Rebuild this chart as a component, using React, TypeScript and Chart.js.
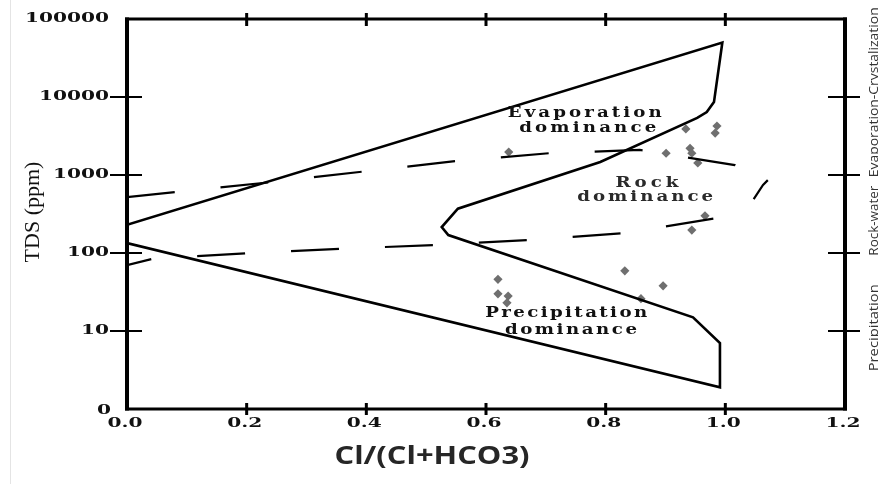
import React, { useEffect, useRef } from 'react';
import { Chart, registerables } from 'chart.js';

Chart.register(...registerables);

// ---- axes ----
const xTickValues = [0, 0.2, 0.4, 0.6, 0.8, 1.0, 1.2];
const xTickLabels = ['0.0', '0.2', '0.4', '0.6', '0.8', '1.0', '1.2'];
const yTickTDS = [1, 10, 100, 1000, 10000, 100000];
const yTickLabels = ['0', '10', '100', '1000', '10000', '100000'];

// ---- Gibbs boundary (solid) ----
const boundaryRatio = [0, 0.995, 0.981, 0.969, 0.953, 0.791, 0.553, 0.526, 0.537, 0.946, 0.991, 0.991, 0];
const boundaryTDS = [230, 50000, 8600, 6400, 5400, 1470, 370, 215, 170, 15, 7, 1.9, 134];

// ---- dashed boomerang ----
const upperDashRatio = [0, 0.227, 0.55, 0.705, 0.857, 1.016, 1.071];
const upperDashTDS = [520, 790, 1510, 1900, 2100, 1340, 860];
const lowerDashRatio = [0, 0.042, 0.206, 0.356, 0.518, 0.674, 0.832, 0.986, 1.041, 1.063, 1.071];
const lowerDashTDS = [70, 84, 100, 113, 127, 147, 180, 281, 412, 745, 860];

// ---- samples ----
const sampleRatio = [0.638, 0.934, 0.986, 0.983, 0.901, 0.941, 0.944, 0.954, 0.966, 0.944, 0.62, 0.62, 0.637, 0.635, 0.832, 0.896, 0.859];
const sampleTDS = [1970, 3900, 4250, 3450, 1900, 2200, 1900, 1430, 300, 197, 46, 30, 28, 23, 59, 38, 26];

// ---- text ----
const xTitle = 'Cl/(Cl+HCO3)';
const yTitle = 'TDS (ppm)';
const zoneTexts = ['Evaporation', 'dominance', 'Rock', 'dominance', 'Precipitation', 'dominance'];
const zoneRatio = [0.765, 0.77, 0.869, 0.866, 0.734, 0.742];
const zoneTDS = [6240, 4000, 790, 522, 17, 10.3];
const zoneWidths = [154, 137, 63, 136, 162, 132];
const sideTexts = ['Evaporation-Crystalization', 'Rock-water', 'Precipitation'];
const sideTDS = [11500, 260, 11];
const sideLengths = [170, 70, 87];

const toPts = (xs: number[], ts: number[]) => xs.map((x, i) => ({ x, y: Math.log10(ts[i]) }));

type TOpts = { align?: string; sx?: number; width?: number; spacing?: number; rotate?: number; fit?: boolean };

function drawText(ctx: CanvasRenderingContext2D, text: string, x: number, y: number, o: TOpts) {
  const chars = [...text];
  const widths = chars.map((c) => ctx.measureText(c).width);
  const sum = widths.reduce((a, b) => a + b, 0);
  let sx = o.sx ?? 1;
  let spacing = o.spacing ?? 0;
  if (o.fit && o.width) {
    sx = o.width / sum;
    spacing = 0;
  } else if (o.width && o.spacing === undefined && chars.length > 1) {
    spacing = (o.width / sx - sum) / (chars.length - 1);
  }
  const total = sum + spacing * (chars.length - 1);
  const align = o.align ?? 'center';
  let lx = align === 'center' ? -total / 2 : align === 'right' ? -total : 0;
  ctx.save();
  ctx.translate(x, y);
  if (o.rotate) ctx.rotate(o.rotate);
  ctx.scale(sx, 1);
  ctx.textAlign = 'left';
  ctx.textBaseline = 'middle';
  chars.forEach((c, i) => {
    ctx.fillText(c, lx, 0);
    lx += widths[i] + spacing;
  });
  ctx.restore();
}

const framePlugin = {
  id: 'gibbsFrame',
  afterDatasetsDraw(chart: any) {
    const { ctx, chartArea: a, scales } = chart;
    const xs = scales.x;
    const ys = scales.y;
    const seg = (x1: number, y1: number, x2: number, y2: number, w: number, color = '#000') => {
      ctx.beginPath();
      ctx.lineWidth = w;
      ctx.strokeStyle = color;
      ctx.moveTo(x1, y1);
      ctx.lineTo(x2, y2);
      ctx.stroke();
    };
    ctx.save();
    ctx.lineCap = 'butt';
    // faint scan border
    seg(10.5, 0, 10.5, 484, 1, '#e4e4e4');
    // frame
    seg(a.left - 2, a.top, a.right + 2, a.top, 3);
    seg(a.left - 2, a.bottom, a.right + 2, a.bottom, 3);
    seg(a.left, a.top - 1.5, a.left, a.bottom + 1.5, 4);
    seg(a.right, a.top - 1.5, a.right, a.bottom + 1.5, 4);
    // x ticks (top and bottom)
    xTickValues.forEach((v) => {
      if (v === 0 || v === 1.2) return;
      const px = xs.getPixelForValue(v);
      seg(px, a.top - 6, px, a.top + 7, 3);
      seg(px, a.bottom - 6, px, a.bottom + 6, 3);
    });
    // y ticks (left and right)
    yTickTDS.forEach((t) => {
      if (t === 1 || t === 100000) return;
      const py = ys.getPixelForValue(Math.log10(t));
      seg(a.left - 17, py, a.left + 15, py, 2);
      seg(a.right - 17, py, a.right + 15, py, 2);
    });
    // tick labels
    ctx.fillStyle = '#111';
    ctx.font = 'bold 13px "DejaVu Serif"';
    yTickTDS.forEach((t, i) => {
      const py = ys.getPixelForValue(Math.log10(t));
      if (t === 1) drawText(ctx, yTickLabels[i], a.left - 16, py + 2, { align: 'right', sx: 1.55 });
      else drawText(ctx, yTickLabels[i], a.left - 18, py, { align: 'right', sx: 1.55 });
    });
    xTickValues.forEach((v, i) => {
      const px = xs.getPixelForValue(v);
      drawText(ctx, xTickLabels[i], px - 2, a.bottom + 15, { align: 'center', sx: 1.55 });
    });
    // zone annotations
    ctx.font = 'bold 14px "DejaVu Serif"';
    zoneTexts.forEach((t, i) => {
      ctx.fillStyle = i === 2 || i === 3 ? '#2a2a2a' : '#111';
      drawText(ctx, t, xs.getPixelForValue(zoneRatio[i]), ys.getPixelForValue(Math.log10(zoneTDS[i])), {
        align: 'center',
        sx: 1.3,
        width: zoneWidths[i],
      });
    });
    // axis titles
    ctx.fillStyle = '#262626';
    ctx.font = 'bold 25px "Open Sans"';
    drawText(ctx, xTitle, (a.left + a.right) / 2 - 54, a.bottom + 48, { align: 'center', fit: true, width: 195 });
    ctx.fillStyle = '#111';
    ctx.font = '22px "Liberation Serif"';
    drawText(ctx, yTitle, 33, 212, { align: 'center', rotate: -Math.PI / 2 });
    // right side zone names
    ctx.fillStyle = '#333';
    ctx.font = '13px "Open Sans"';
    sideTexts.forEach((t, i) => {
      const py = ys.getPixelForValue(Math.log10(sideTDS[i]));
      drawText(ctx, t, a.right + 29, py, { align: 'center', rotate: -Math.PI / 2, fit: true, width: sideLengths[i] });
    });
    ctx.restore();
  },
};

export default function App() {
  const ref = useRef<HTMLCanvasElement>(null);
  useEffect(() => {
    if (!ref.current) return;
    const chart = new Chart(ref.current, {
      type: 'scatter',
      data: {
        datasets: [
          {
            label: 'boundary',
            data: toPts(boundaryRatio, boundaryTDS),
            showLine: true,
            borderColor: '#000',
            borderWidth: 2.6,
            pointRadius: 0,
            tension: 0,
            fill: false,
          },
          {
            label: 'upper dashed',
            data: toPts(upperDashRatio, upperDashTDS),
            showLine: true,
            borderColor: '#000',
            borderWidth: 2.2,
            borderDash: [48, 46],
            pointRadius: 0,
            tension: 0,
            fill: false,
          },
          {
            label: 'lower dashed',
            data: toPts(lowerDashRatio, lowerDashTDS),
            showLine: true,
            borderColor: '#000',
            borderWidth: 2.2,
            borderDash: [48, 46],
            borderDashOffset: 23,
            pointRadius: 0,
            tension: 0,
            fill: false,
          },
          {
            label: 'samples',
            data: toPts(sampleRatio, sampleTDS),
            showLine: false,
            pointStyle: 'rectRot',
            pointRadius: 4.6,
            pointBackgroundColor: '#6f6f6f',
            pointBorderColor: '#6f6f6f',
            pointBorderWidth: 0,
          },
        ],
      },
      options: {
        animation: false,
        responsive: false,
        layout: { padding: { left: 127, right: 33, top: 19, bottom: 75 } },
        plugins: { legend: { display: false }, tooltip: { enabled: false } },
        scales: {
          x: { type: 'linear', min: 0, max: 1.2, display: false },
          y: { type: 'linear', min: 0, max: 5, display: false },
        },
      },
      plugins: [framePlugin],
    });
    return () => chart.destroy();
  }, []);
  return (
    <div style={{ position: 'absolute', left: 0, top: 0, width: 878, height: 484, background: '#fff' }}>
      <canvas ref={ref} width={878} height={484} />
    </div>
  );
}
